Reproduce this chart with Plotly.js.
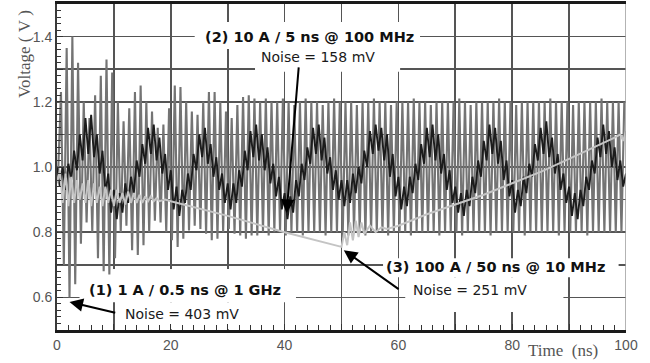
<!DOCTYPE html>
<html>
<head>
<meta charset="utf-8">
<script src="https://cdn.plot.ly/plotly-3.0.1.min.js"></script>
<style>html,body{margin:0;padding:0;background:#fff;}#chart{width:650px;height:363px;}</style>
</head>
<body>
<div id="chart"></div>
<script>
// ---------- data ----------
// Series (1) 1 A / 0.5 ns @ 1 GHz : one trough and one peak per 1 ns cycle (V)
const S1_TROUGH = [
  0.98, 0.70, 0.60, 0.64, 0.765, 0.83, 0.80, 0.72, 0.68, 0.67,
  0.72, 0.80, 0.82, 0.745, 0.73, 0.76, 0.80, 0.835, 0.83, 0.80,
  0.775, 0.755, 0.78, 0.805, 0.82, 0.81, 0.795, 0.775, 0.78, 0.80,
  0.81, 0.795, 0.79, 0.78, 0.79, 0.79, 0.80, 0.79, 0.80, 0.80,
  0.79, 0.80, 0.80, 0.79, 0.80, 0.80, 0.80, 0.79, 0.80, 0.80,
  0.78, 0.79, 0.80, 0.80, 0.79, 0.80, 0.80, 0.80, 0.79, 0.80,
  0.80, 0.80, 0.79, 0.80, 0.80, 0.80, 0.80, 0.79, 0.80, 0.80,
  0.80, 0.79, 0.80, 0.80, 0.80, 0.80, 0.79, 0.80, 0.80, 0.80,
  0.80, 0.80, 0.79, 0.80, 0.80, 0.80, 0.80, 0.80, 0.79, 0.80,
  0.80, 0.80, 0.80, 0.79, 0.80, 0.80, 0.80, 0.80, 0.80, 0.80
];
const S1_PEAK = [
  1.23, 1.365, 1.40, 1.32, 1.20, 1.15, 1.22, 1.28, 1.33, 1.29,
  1.20, 1.14, 1.18, 1.23, 1.25, 1.20, 1.17, 1.12, 1.13, 1.18,
  1.25, 1.245, 1.20, 1.17, 1.16, 1.20, 1.23, 1.23, 1.20, 1.17,
  1.15, 1.19, 1.215, 1.22, 1.21, 1.20, 1.21, 1.20, 1.20, 1.21,
  1.20, 1.19, 1.20, 1.21, 1.20, 1.20, 1.19, 1.20, 1.21, 1.20,
  1.20, 1.20, 1.19, 1.20, 1.20, 1.21, 1.20, 1.20, 1.19, 1.20,
  1.20, 1.20, 1.21, 1.20, 1.20, 1.19, 1.20, 1.20, 1.20, 1.20,
  1.21, 1.20, 1.19, 1.20, 1.20, 1.20, 1.20, 1.21, 1.20, 1.20,
  1.19, 1.20, 1.20, 1.20, 1.20, 1.20, 1.21, 1.20, 1.20, 1.20,
  1.19, 1.20, 1.20, 1.20, 1.20, 1.21, 1.20, 1.20, 1.20, 1.20
];
const S1_CYCLE_NS = 1;       // 1 GHz
const S1_TROUGH_AT = 0.2;    // phase of trough inside the cycle (ns)
const S1_PEAK_AT = 0.7;      // phase of peak inside the cycle (ns)

// Series (2) 10 A / 5 ns @ 100 MHz : sampled every 0.5 ns from 0 to 100 ns (V)
const S2_STEP_NS = 0.5;
const S2_V = [
  1.00, 0.94, 1.00, 0.93, 1.01, 0.96, 1.05, 0.99, 1.10, 1.02, 1.15, 1.04, 1.16, 1.03, 1.10, 0.98, 1.05, 0.92, 0.98, 0.86, 0.93,
  0.84, 0.92, 0.86, 0.95, 0.89, 0.97, 0.92, 1.02, 0.97, 1.07, 1.01, 1.12, 1.04, 1.13, 1.02, 1.09, 0.98, 1.04, 0.93, 0.99,
  0.87, 0.94, 0.85, 0.93, 0.89, 0.98, 0.93, 1.04, 0.99, 1.10, 1.03, 1.12, 1.01, 1.07, 0.97, 1.03, 0.93, 0.98, 0.89, 0.95,
  0.87, 0.95, 0.89, 0.99, 0.94, 1.05, 0.99, 1.11, 1.03, 1.13, 1.02, 1.10, 0.99, 1.06, 0.95, 1.01, 0.91, 0.97, 0.87, 0.92,
  0.84, 0.91, 0.86, 0.96, 0.91, 1.01, 0.96, 1.06, 1.01, 1.12, 1.04, 1.13, 1.02, 1.09, 0.98, 1.03, 0.93, 0.99, 0.90, 0.96,
  0.88, 0.96, 0.89, 0.98, 0.92, 1.00, 0.95, 1.05, 1.00, 1.11, 1.04, 1.13, 1.05, 1.12, 1.02, 1.10, 0.97, 1.04, 0.91, 0.97,
  0.87, 0.94, 0.88, 0.97, 0.92, 1.01, 0.96, 1.07, 1.01, 1.12, 1.03, 1.13, 1.02, 1.10, 0.98, 1.04, 0.93, 0.99, 0.89, 0.94,
  0.86, 0.92, 0.85, 0.93, 0.88, 0.97, 0.92, 1.02, 0.97, 1.08, 1.02, 1.13, 1.04, 1.12, 1.01, 1.08, 0.96, 1.02, 0.91, 0.96,
  0.86, 0.93, 0.88, 0.97, 0.92, 1.01, 0.97, 1.07, 1.02, 1.12, 1.04, 1.14, 1.03, 1.09, 0.98, 1.04, 0.93, 0.98, 0.89, 0.94,
  0.85, 0.92, 0.84, 0.93, 0.88, 0.97, 0.93, 1.02, 0.98, 1.09, 1.03, 1.13, 1.04, 1.11, 1.00, 1.06, 0.96, 1.02, 0.94, 0.98
];

// Series (3) 100 A / 50 ns @ 10 MHz : time (ns) and voltage (V)
const S3_T = [
  0, 0.5, 1, 1.5, 2, 2.5, 3, 3.5, 4, 4.5, 5, 5.5, 6, 6.5, 7, 7.5, 8, 8.5, 9, 9.5,
  10, 10.5, 11, 11.5, 12, 12.5, 13, 13.5, 14, 14.5, 15, 15.5, 16, 16.5, 17, 17.5, 18,
  19, 20, 30, 40, 50, 50.5, 51, 51.5, 52, 52.5, 53, 53.5, 54, 55, 56, 57, 58,
  60, 65, 70, 75, 80, 85, 90, 95, 98, 99, 99.5, 100
];
const S3_V = [
  0.95, 0.99, 0.89, 0.98, 0.88, 0.97, 0.89, 0.96, 0.90, 0.95, 0.89, 0.96, 0.88, 0.95, 0.89, 0.94, 0.88, 0.94, 0.89, 0.93,
  0.88, 0.93, 0.89, 0.92, 0.885, 0.925, 0.89, 0.92, 0.89, 0.915, 0.89, 0.91, 0.895, 0.91, 0.895, 0.905, 0.895,
  0.90, 0.895, 0.85, 0.80, 0.755, 0.80, 0.76, 0.83, 0.775, 0.835, 0.785, 0.83, 0.795, 0.82, 0.80, 0.815, 0.81,
  0.82, 0.855, 0.885, 0.915, 0.95, 0.985, 1.025, 1.065, 1.09, 1.10, 1.08, 1.11
];

// Axis ticks
const X_TICKS = [0, 10, 20, 30, 40, 50, 60, 70, 80, 90, 100];
const X_LABELS = ['0', '', '20', '', '40', '', '60', '', '80', '', '100'];
const Y_TICKS = [0.5, 0.6, 0.7, 0.8, 0.9, 1.0, 1.1, 1.2, 1.3, 1.4, 1.5];
const Y_LABELS = ['', '0.6', '', '0.8', '', '1.0', '', '1.2', '', '1.4', ''];

// Labels
const LBL1 = '(1) 1 A / 0.5 ns @ 1 GHz', NOISE1 = 'Noise = 403 mV';
const LBL2 = '(2) 10 A / 5 ns @ 100 MHz', NOISE2 = 'Noise = 158 mV';
const LBL3 = '(3) 100 A / 50 ns @ 10 MHz', NOISE3 = 'Noise = 251 mV';

// ---------- build traces ----------
const s1x = [], s1y = [];
for (let i = 0; i < S1_PEAK.length; i++) {
  s1x.push(i * S1_CYCLE_NS + S1_TROUGH_AT); s1y.push(S1_TROUGH[i]);
  s1x.push(i * S1_CYCLE_NS + S1_PEAK_AT);   s1y.push(S1_PEAK[i]);
}
const s2x = S2_V.map((v, i) => i * S2_STEP_NS);

const traces = [
  {x: s1x, y: s1y, type: 'scatter', mode: 'lines', line: {color: '#747474', width: 2.1}, hoverinfo: 'skip'},
  {x: s2x, y: S2_V, type: 'scatter', mode: 'lines', line: {color: '#1c1c1c', width: 1.9}, hoverinfo: 'skip'},
  {x: S3_T, y: S3_V, type: 'scatter', mode: 'lines', line: {color: '#c4c4c4', width: 2}, hoverinfo: 'skip'}
];

const boldFont = {family: 'DejaVu Sans', size: 14.5, color: '#111', weight: 'bold'};
const normFont = {family: 'DejaVu Sans', size: 14, color: '#1a1a1a'};
function txt(x, y, text, font) {
  return {x: x, y: y, xref: 'x', yref: 'y', text: text, showarrow: false, font: font, xanchor: 'center', yanchor: 'middle'};
}
function arrow(hx, hy, tx, ty) {
  return {x: hx, y: hy, ax: tx, ay: ty, xref: 'x', yref: 'y', axref: 'x', ayref: 'y', text: '',
    showarrow: true, arrowhead: 2, arrowsize: 1.35, arrowwidth: 2, arrowcolor: '#000'};
}
function box(x0, x1, y0, y1) {
  return {type: 'rect', xref: 'x', yref: 'y', x0: x0, x1: x1, y0: y0, y1: y1, fillcolor: '#fff', line: {width: 0}, layer: 'between'};
}

const layout = {
  width: 650, height: 363,
  margin: {l: 57, r: 24, t: 4, b: 33},
  paper_bgcolor: '#fff', plot_bgcolor: '#fff',
  showlegend: false,
  xaxis: {
    range: [0, 100], tickmode: 'array', tickvals: X_TICKS, ticktext: X_LABELS,
    showgrid: true, gridcolor: '#555', gridwidth: 1.6,
    showline: true, linecolor: '#1a1a1a', linewidth: 3, mirror: true,
    ticks: 'inside', ticklen: 6, tickcolor: '#333', tickwidth: 1,
    minor: {tickmode: 'linear', tick0: 0, dtick: 2, ticks: 'inside', ticklen: 5, tickcolor: '#333', showgrid: false},
    tickfont: {family: 'Liberation Sans, Arial', size: 14, color: '#555'},
    zeroline: false, fixedrange: true
  },
  yaxis: {
    range: [0.5, 1.5], tickmode: 'array', tickvals: Y_TICKS, ticktext: Y_LABELS,
    showgrid: true, gridcolor: '#555', gridwidth: 1.6,
    showline: true, linecolor: '#3a3a3a', linewidth: 2,
    ticks: 'inside', ticklen: 6, tickcolor: '#333', tickwidth: 1,
    minor: {tickmode: 'linear', tick0: 0.5, dtick: 0.02, ticks: 'inside', ticklen: 4, tickcolor: '#333', showgrid: false},
    tickfont: {family: 'Liberation Sans, Arial', size: 14, color: '#555'},
    zeroline: false, fixedrange: true
  },
  shapes: [
    box(24.2, 63.8, 1.362, 1.445), box(34.8, 60.3, 1.292, 1.362),
    box(3.96, 42.0, 0.585, 0.687), box(10.65, 33.9, 0.502, 0.585),
    box(57.3, 98.7, 0.662, 0.720), box(61.2, 89.0, 0.555, 0.662),
    {type: 'line', xref: 'x', yref: 'paper', x0: 100, x1: 100, y0: 0, y1: 1, line: {color: '#9a9a9a', width: 1.5}, layer: 'above'}
  ],
  annotations: [
    txt(44.3, 1.398, LBL2, boldFont), txt(45.95, 1.338, NOISE2, normFont),
    txt(22.5, 0.622, LBL1, boldFont), txt(21.9, 0.550, NOISE1, normFont),
    txt(77.0, 0.692, LBL3, boldFont), txt(72.6, 0.622, NOISE3, normFont),
    arrow(40.35, 0.859, 42.5, 1.310),
    arrow(2.2, 0.586, 10.5, 0.552),
    arrow(50.4, 0.745, 60.3, 0.622),
    {xref: 'paper', yref: 'paper', x: -0.057, y: 0.845, text: 'Voltage\u00a0(\u00a0V\u00a0)', textangle: -90, showarrow: false,
      font: {family: 'Liberation Serif, Times New Roman', size: 17, color: '#555'}, xanchor: 'center', yanchor: 'middle'},
    {xref: 'paper', yref: 'paper', x: 0.889, y: -0.064, text: 'Time\u00a0\u00a0(ns)', showarrow: false,
      font: {family: 'Liberation Serif, Times New Roman', size: 17, color: '#555'}, xanchor: 'center', yanchor: 'middle'}
  ]
};

Plotly.newPlot('chart', traces, layout, {staticPlot: true, displayModeBar: false});
</script>
</body>
</html>
